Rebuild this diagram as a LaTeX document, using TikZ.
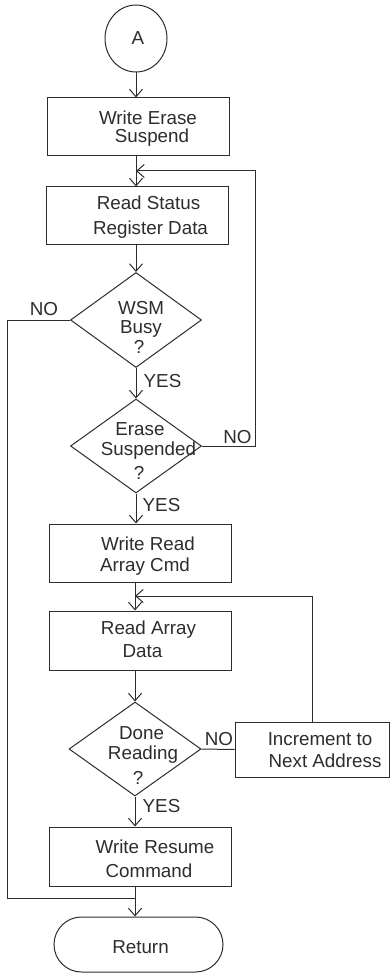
\documentclass[tikz,border=0pt]{standalone}
\usepackage{fontspec}
\setmainfont{Liberation Sans}
\usetikzlibrary{arrows.meta,shapes.geometric,calc}
\definecolor{ink}{RGB}{45,45,45}
\begin{document}
\begin{tikzpicture}[x=1pt,y=-1pt,
  ln/.style={draw=ink,line width=1pt},
  arr/.style={ln,-{Straight Barb[length=7.5pt,width=13pt]}},
  shp/.style={draw=ink,line width=1pt,inner sep=0pt,fill=white},
  boxn/.style={shp,rectangle,minimum width=182pt,minimum height=58pt},
  dia/.style={shp,diamond,minimum width=131pt,minimum height=95pt},
  txt/.style={anchor=base,inner sep=0pt,text=ink,font=\fontsize{18.8}{20}\selectfont},
]
\useasboundingbox (0,0) rectangle (390,973);
% shapes
\node[shp,ellipse,minimum width=62pt,minimum height=67pt] (A) at (136,38.5) {};
\node[boxn] (b1) at (138,127) {};
\node[boxn] (b2) at (137,216) {};
\node[dia] (d1) at (136,320) {};
\node[dia,minimum height=94pt] (d2) at (136,446) {};
\node[boxn] (b3) at (140,553) {};
\node[boxn,minimum height=59pt] (b4) at (140,640.5) {};
\node[dia,minimum width=132pt,minimum height=94pt] (d3) at (135,749) {};
\node[shp,rectangle,minimum width=154pt,minimum height=55pt] (inc) at (312,749.5) {};
\node[boxn,minimum height=59pt] (b5) at (140,856.5) {};
\node[shp,rectangle,rounded corners=27.5pt,minimum width=169pt,minimum height=55pt] (ret) at (138.5,944.5) {};
% junction coordinates
\coordinate (j1) at (136,171);
\coordinate (r1) at (255,171);
\coordinate (j2) at (135,596);
\coordinate (l1) at (7,898);
\coordinate (j3) at (135,898);
% connectors
\draw[arr] (A.south) -- (A.south |- b1.north);
\draw[arr] (b1.south -| A) -- (b2.north -| A);
\draw[arr] (d2.east) -| (r1) -- (j1);
\draw[arr] (b2.south -| d1) -- (d1.north);
\draw[arr] (d1.south) -- (d2.north);
\draw[ln] (d1.west) -| (l1) -- (j3);
\draw[arr] (d2.south) -- (d2.south |- b3.north);
\draw[arr] (b3.south -| d3) -- (b4.north -| d3);
\draw[arr] (inc.north) |- (j2);
\draw[arr] (b4.south -| d3) -- (d3.north);
\draw[ln] (d3.east) -- (inc.west);
\draw[arr] (d3.south) -- (b5.north -| d3);
\draw[arr] (b5.south -| d3) -- (ret.north -| d3);
% texts
\node[txt] (tA) at (138,45) {A};
\node[txt] (t1a) at (148,125) {Write Erase};
\node[txt] (t1b) at (152,142.7) {Suspend};
\node[txt] (t2a) at (148.5,210) {Read Status};
\node[txt] (t2b) at (150.5,235) {Register Data};
\node[txt] (t3a) at (141,314) {WSM};
\node[txt] (t3b) at (141,333) {Busy};
\node[txt] (t3c) at (139,353) {?};
\node[txt] (t4a) at (140,435) {Erase};
\node[txt] (t4b) at (148.5,455) {Suspended};
\node[txt] (t4c) at (139,479) {?};
\node[txt] (t5a) at (148,550) {Write Read};
\node[txt] (t5b) at (145,571) {Array Cmd};
\node[txt] (t6a) at (148.5,634) {Read Array};
\node[txt] (t6b) at (142.5,657) {Data};
\node[txt] (t7a) at (141.5,739) {Done};
\node[txt] (t7b) at (143,759) {Reading};
\node[txt] (t7c) at (138,784) {?};
\node[txt] (t8a) at (320,745) {Increment to};
\node[txt] (t8b) at (325,767) {Next Address};
\node[txt] (t9a) at (155,853) {Write Resume};
\node[txt] (t9b) at (149,877) {Command};
\node[txt] (tR) at (140.5,953) {Return};
% branch labels
\node[txt] (no1) at (44,315) {NO};
\node[txt] (yes1) at (162.5,387) {YES};
\node[txt] (no2) at (237.5,443) {NO};
\node[txt] (yes2) at (161.5,511) {YES};
\node[txt] (no3) at (219,745) {NO};
\node[txt] (yes3) at (161.5,812) {YES};
\end{tikzpicture}
\end{document}
